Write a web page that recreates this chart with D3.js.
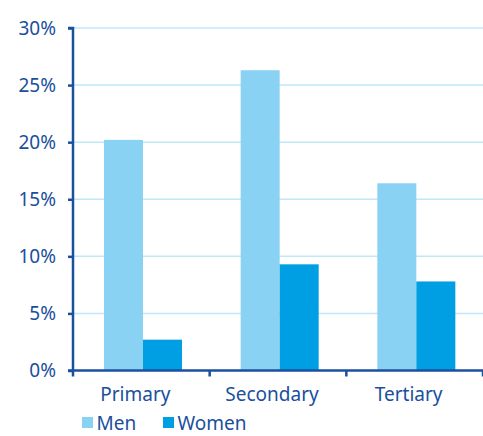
<!DOCTYPE html>
<html><head><meta charset="utf-8">
<script src="https://cdn.jsdelivr.net/npm/d3@7"></script>
<style>body{margin:0;background:#fff}svg{display:block}text{font-family:"Noto Sans",sans-serif;fill:#1a4f9c}</style>
</head><body><svg id="c" width="483" height="436"></svg>
<script>
(function(){
const categories = ["Primary","Secondary","Tertiary"];
const seriesNames = ["Men","Women"];
const men = [20.2, 26.3, 16.4];
const women = [2.7, 9.3, 7.8];
const yTicks = [0,5,10,15,20,25,30];
const colors = ["#8ad2f3","#009fe3"];

const svg = d3.select("#c");
const mL = 73, mR = 483, mT = 28, mB = 370.5;
const x = d3.scaleBand().domain(categories).range([mL,mR]);
const y = d3.scaleLinear().domain([0,30]).range([mB,mT]);
const xs = d3.scaleBand().domain(seriesNames).range([0,78]);
const axisColor = "#1a50a0";
const FS = 19;

svg.append("g").selectAll("line").data(yTicks.filter(d=>d>0)).join("line")
  .attr("x1",mL).attr("x2",mR).attr("y1",d=>y(d)).attr("y2",d=>y(d))
  .attr("stroke","#bfe7f8").attr("stroke-width",1.5);

const data = categories.map((c,i)=>({c, vals:[men[i],women[i]]}));
const g = svg.append("g").selectAll("g").data(data).join("g")
  .attr("transform",d=>`translate(${x(d.c)+31},0)`);
g.selectAll("rect").data(d=>d.vals.map((v,j)=>({v,s:seriesNames[j],j}))).join("rect")
  .attr("x",d=>xs(d.s)).attr("width",xs.bandwidth())
  .attr("y",d=>y(d.v)).attr("height",d=>y(0)-y(d.v))
  .attr("fill",d=>colors[d.j]);

const ya = svg.append("g").attr("transform",`translate(${mL},0)`)
  .call(d3.axisLeft(y).tickValues(yTicks).tickFormat(d=>d+"%").tickSize(5).tickPadding(12));
ya.select(".domain").attr("stroke",axisColor).attr("stroke-width",2.5).attr("d",`M-5,${mT}H0V${mB}`);
ya.selectAll(".tick line").attr("stroke",axisColor).attr("stroke-width",2.5);
ya.selectAll("text").attr("font-size",FS).attr("fill","#1a4f9c").style("font-family","'Noto Sans',sans-serif");

const xa = svg.append("g").attr("transform",`translate(0,${mB})`);
xa.append("line").attr("x1",mL-5).attr("x2",mR).attr("y1",0).attr("y2",0).attr("stroke",axisColor).attr("stroke-width",2.5);
const xt = [...categories.map(c=>x(c)), mR];
xa.selectAll(".tk").data(xt).join("line").attr("class","tk")
  .attr("x1",d=>d).attr("x2",d=>d).attr("y1",0).attr("y2",6).attr("stroke",axisColor).attr("stroke-width",2.5);
xa.selectAll(".lbl").data(categories).join("text").attr("class","lbl")
  .attr("x",d=>x(d)+x.bandwidth()/2-6).attr("y",30.5).attr("text-anchor","middle").attr("font-size",FS).text(d=>d);

const lg = svg.append("g").attr("transform","translate(82,417)");
const lx = [0,81];
seriesNames.forEach((s,i)=>{
  lg.append("rect").attr("x",lx[i]).attr("y",0).attr("width",11).attr("height",11).attr("fill",colors[i]);
  lg.append("text").attr("x",lx[i]+14.5).attr("y",12.5).attr("font-size",FS).text(s);
});
})();
</script></body></html>
